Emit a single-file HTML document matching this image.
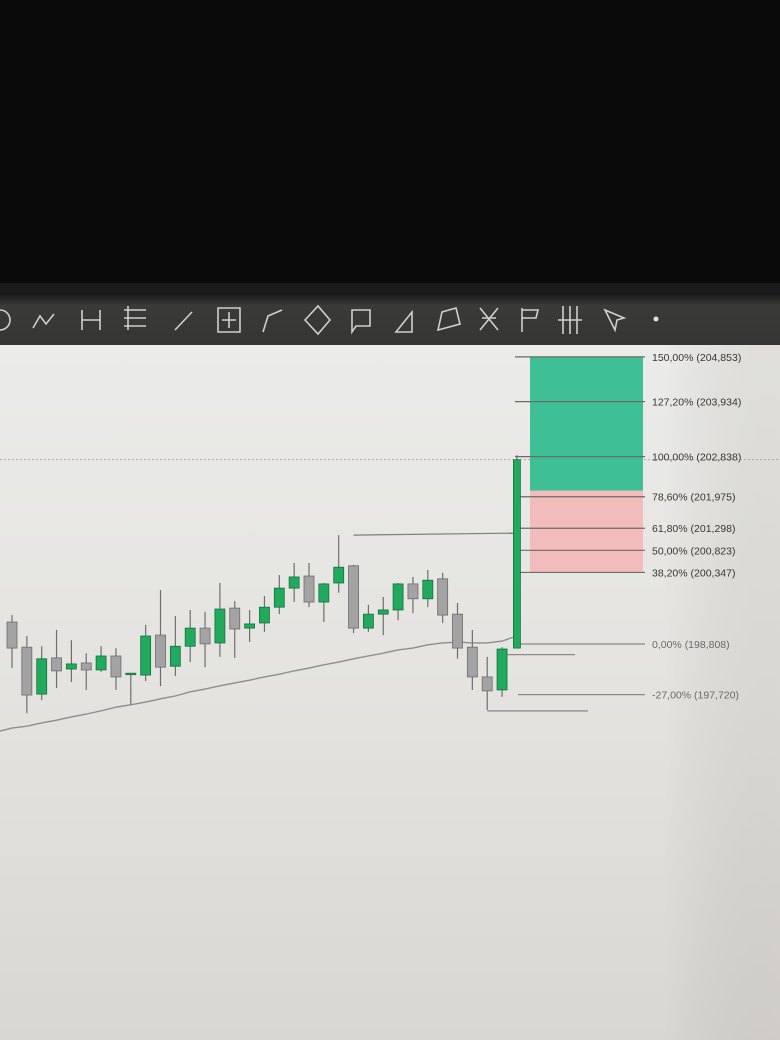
<!DOCTYPE html>
<html><head><meta charset="utf-8">
<style>
html,body{margin:0;padding:0;width:780px;height:1040px;overflow:hidden;background:#0a0a0a;}
svg{display:block;}
</style></head>
<body>
<svg id="chart" width="780" height="1040" viewBox="0 0 780 1040" xmlns="http://www.w3.org/2000/svg">
<defs>
<linearGradient id="bg" x1="0" y1="0" x2="0" y2="1">
<stop offset="0" stop-color="#ebebe9"/><stop offset="0.5" stop-color="#e4e3e0"/><stop offset="1" stop-color="#d9d7d3"/>
</linearGradient>
<linearGradient id="side" x1="0" y1="0" x2="1" y2="0">
<stop offset="0.85" stop-color="#000" stop-opacity="0"/><stop offset="1" stop-color="#8a8270" stop-opacity="0.12"/>
</linearGradient>
<linearGradient id="tb" x1="0" y1="0" x2="0" y2="1">
<stop offset="0" stop-color="#1c1c1c"/><stop offset="0.2" stop-color="#3a3a38"/><stop offset="1" stop-color="#353533"/>
</linearGradient>
</defs>
<rect x="0" y="0" width="780" height="290" fill="#0b0a0b"/>
<rect x="0" y="283" width="780" height="12" fill="#1a1a1a"/>
<rect x="0" y="295" width="780" height="50" fill="url(#tb)"/>
<rect x="0" y="345" width="780" height="695" fill="url(#bg)"/>
<rect x="0" y="345" width="780" height="695" fill="url(#side)"/>
<g id="toolbar" stroke="#cfcfcf" stroke-width="1.6" fill="none"></g>
<g id="plot"></g>
</svg>
<script>
// ---- data ----
const candleOpen  = [199.28,198.74,197.73,198.51,198.27,198.40,198.25,198.55,198.16,198.14,199.00,198.33,198.76,199.15,198.83,199.58,199.15,199.26,199.60,200.01,200.27,199.71,200.12,200.49,199.15,199.45,199.54,200.10,199.78,200.21,199.45,198.74,198.10,197.82,198.72];
const candleClose = [198.72,197.71,198.49,198.23,198.38,198.25,198.55,198.10,198.18,198.98,198.31,198.76,199.15,198.81,199.56,199.13,199.24,199.60,200.01,200.25,199.71,200.10,200.46,199.15,199.45,199.54,200.10,199.78,200.18,199.43,198.72,198.10,197.80,198.70,202.77];
const candleHigh  = [199.43,198.98,198.76,199.11,198.89,198.61,198.76,198.72,198.18,199.22,199.97,199.41,199.54,199.50,200.12,199.73,199.54,199.84,200.29,200.55,200.55,200.12,201.15,200.51,199.65,199.82,200.12,200.25,200.40,200.34,199.69,199.11,198.53,198.74,202.87];
const candleLow   = [198.29,197.32,197.60,197.86,197.99,197.82,198.21,197.82,197.50,198.01,197.90,198.12,198.42,198.31,198.53,198.51,198.85,199.07,199.45,199.71,199.60,199.28,199.91,199.04,199.07,199.00,199.32,199.47,199.60,199.26,198.49,197.82,197.39,197.67,198.72];
const maValues    = [197.00,197.04,197.11,197.17,197.24,197.30,197.37,197.45,197.50,197.56,197.63,197.69,197.78,197.84,197.91,197.97,198.03,198.10,198.16,198.23,198.29,198.36,198.42,198.49,198.55,198.61,198.68,198.72,198.79,198.83,198.85,198.83,198.83,198.87,198.98];
const fibPct      = ["150,00%","127,20%","100,00%","78,60%","61,80%","50,00%","38,20%","0,00%","-27,00%"];
const fibPrice    = [204.853,203.934,202.838,201.975,201.298,200.823,200.347,198.808,197.720];
const fibPriceText= ["204,853","203,934","202,838","201,975","201,298","200,823","200,347","198,808","197,720"];

// ---- scales ----
const NS='http://www.w3.org/2000/svg';
const y = p => 644 - (p - 198.808) * 46.5;
const x = i => 12 + i * 14.85;
const plot = document.getElementById('plot');
function mk(tag, attrs){const e=document.createElementNS(NS,tag);for(const k in attrs)e.setAttribute(k,attrs[k]);plot.appendChild(e);return e;}

let e = mk('line',{x1:0,x2:780,y1:y(fibPrice[2])+3,y2:y(fibPrice[2])+3,stroke:'#9a9a9a','stroke-width':0.8,'stroke-dasharray':'2 2'});



const gTop=y(fibPrice[0])-6, gBot=y(fibPrice[3])-6, pBot=y(fibPrice[6]);
e = mk('rect',{x:530,y:gTop,width:113,height:gBot-gTop,fill:'#3fbf96'});


e = mk('rect',{x:530,y:gBot,width:113,height:pBot-gBot,fill:'#f2bcbc'});



fibPrice.forEach((p,i)=>{
  const yy = i===0 ? y(p)-6 : (i===1 ? y(p)-4 : y(p));
  const x1 = i<7 ? 515 : 518;
  const l=mk('line',{x1:x1,x2:645,y1:yy,y2:yy,stroke:i<7?'#6f6a66':'#8a8a8a','stroke-width':1.2});
  
  
  const t=mk('text',{x:652,y:yy+4,'font-family':'Liberation Sans, sans-serif','font-size':'10.5',fill:i<7?'#3a3633':'#6a6a6a'});
  t.textContent=fibPct[i]+' ('+fibPriceText[i]+')';
  
  
});

let pts=[[0,y(maValues[0])+3].join(',')];
maValues.forEach((v,i)=>pts.push(x(i)+','+y(v)));
e = mk('polyline',{points:pts.join(' '),fill:'none',stroke:'#8e8e8e','stroke-width':1.4});



e = mk('polyline',{points:x(23)+','+y(candleHigh[22])+' '+x(34)+','+(y(candleHigh[22])-2),fill:'none',stroke:'#7d7d7d','stroke-width':1.2});


e = mk('line',{x1:x(33)+5,x2:575,y1:y(198.58),y2:y(198.58),stroke:'#8a8a8a','stroke-width':1.2});


e = mk('line',{x1:x(32),x2:588,y1:y(197.39)+1,y2:y(197.39)+1,stroke:'#7d7d7d','stroke-width':1.2});



candleOpen.forEach((o,i)=>{
  const c=candleClose[i], up=c>=o, cx=x(i);
  const col= up?'#21a95c':'#a3a3a3', edge= up?'#14733c':'#6c6c6c';
  const w = i===34?7:10;
  const wk=mk('line',{x1:cx,x2:cx,y1:y(candleHigh[i]),y2:y(candleLow[i]),stroke:'#6e6e6e','stroke-width':1.2});
  
  
  const top=y(Math.max(o,c)), h=Math.max(1.5,Math.abs(y(o)-y(c)));
  const b=mk('rect',{x:cx-w/2,y:top,width:w,height:h,fill:col,stroke:edge,'stroke-width':0.8});
  
  
});

const tb=document.getElementById('toolbar');
const icons=[
 'M0 310 A9 9 0 0 1 0 330',
 'M33 328 L40 316 L46 324 L54 314',
 'M82 310 L82 330 M82 320 L100 320 M100 310 L100 330',
 'M124 310 L146 310 M124 318 L146 318 M124 326 L146 326 M128 306 L128 330',
 'M175 330 L192 312',
 'M218 308 L240 308 L240 332 L218 332 Z M229 312 L229 328 M222 320 L236 320',
 'M263 332 L268 316 L282 310',
 'M305 320 L318 306 L330 320 L318 334 Z',
 'M352 310 L370 310 L370 326 L356 326 L352 332 Z',
 'M396 332 L412 312 L412 332 Z',
 'M438 330 L442 312 L456 308 L460 324 Z',
 'M480 308 L498 330 M498 308 L480 330 M482 318 L496 318',
 'M522 310 L538 310 L536 318 L522 318 M522 308 L522 332',
 'M563 306 L563 334 M570 306 L570 334 M577 306 L577 334 M558 320 L582 320',
 'M605 310 L615 330 L617 320 L624 318 Z'
];
icons.forEach(d=>{const p=document.createElementNS(NS,'path');p.setAttribute('d',d);


tb.appendChild(p);});
const dot=document.createElementNS(NS,'circle');dot.setAttribute('cx',656);dot.setAttribute('cy',319);dot.setAttribute('r',2.5);dot.setAttribute('fill','#e0e0e0');dot.setAttribute('stroke','none');


tb.appendChild(dot);
</script>
</body></html>
